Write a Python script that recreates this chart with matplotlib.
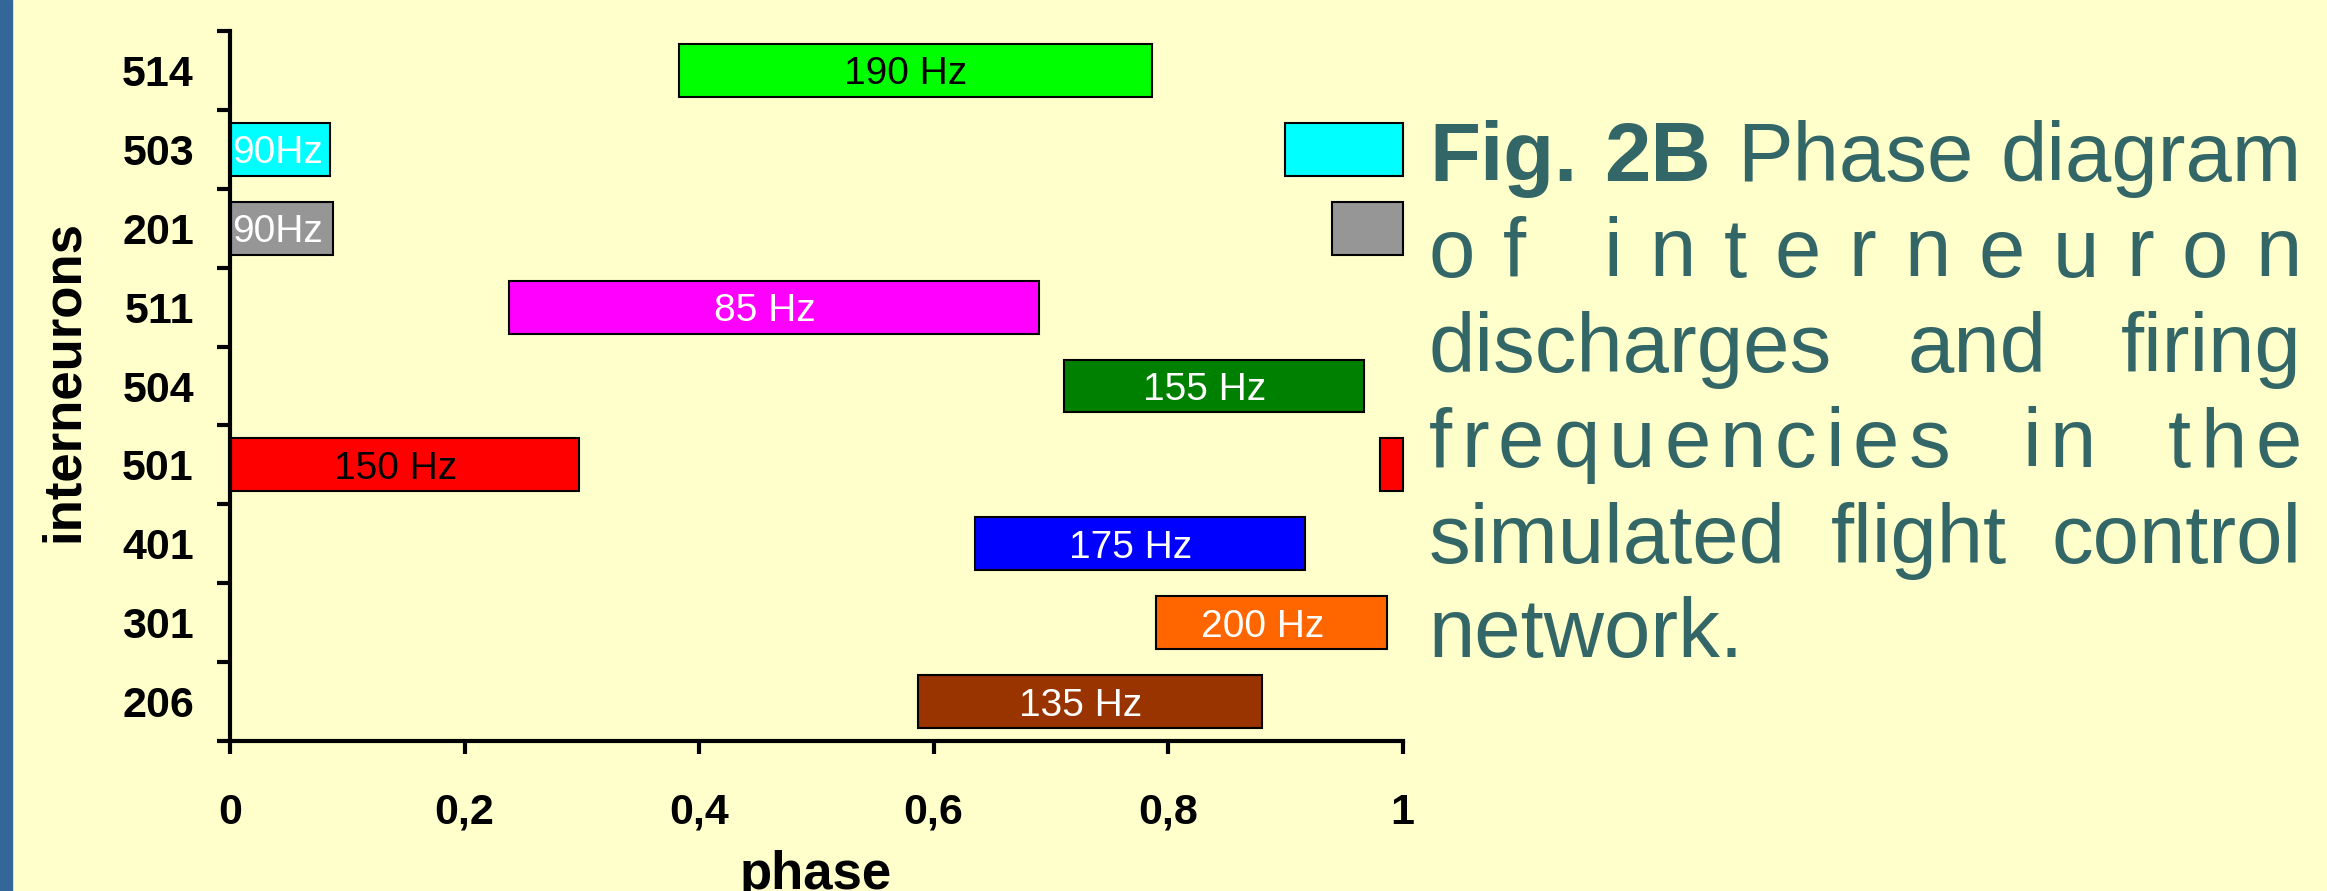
import matplotlib
matplotlib.use('Agg')
import matplotlib.pyplot as plt
from matplotlib.patches import Rectangle
import numpy as np

# ---------------- data ----------------
neurons = ['514', '503', '201', '511', '504', '501', '401', '301', '206']   # top -> bottom
start_main = [0.383, 0.0, 0.0, 0.238, 0.711, 0.0, 0.635, 0.790, 0.587]
end_main = [0.786, 0.085, 0.088, 0.690, 0.967, 0.298, 0.917, 0.987, 0.880]
start_wrap = [None, 0.900, 0.940, None, None, 0.981, None, None, None]
end_wrap = [None, 1.0, 1.0, None, None, 1.0, None, None, None]
freq_labels = ['190 Hz', '90Hz', '90Hz', '85 Hz', '155 Hz', '150 Hz', '175 Hz', '200 Hz', '135 Hz']
bar_colors = ['#00FF00', '#00FFFF', '#969696', '#FF00FF', '#008000',
              '#FF0000', '#0000FF', '#FF6600', '#993300']
label_colors = ['black', 'white', 'white', 'white', 'white', 'black', 'white', 'white', 'white']
x_ticks = [0, 0.2, 0.4, 0.6, 0.8, 1.0]
x_tick_labels = ['0', '0,2', '0,4', '0,6', '0,8', '1']
caption_lines = [
    [('Fig.', 'bold'), ('2B', 'bold'), ('Phase', 'normal'), ('diagram', 'normal')],
    [('of', 'normal'), ('interneuron', 'normal')],
    [('discharges', 'normal'), ('and', 'normal'), ('firing', 'normal')],
    [('frequencies', 'normal'), ('in', 'normal'), ('the', 'normal')],
    [('simulated', 'normal'), ('flight', 'normal'), ('control', 'normal')],
    [('network.', 'normal')],
]

# ---------------- figure ----------------
FAM = ['Liberation Sans', 'DejaVu Sans']
plt.rcParams['font.family'] = FAM
W, H, DPI = 2327, 891, 100
BG = '#FFFFCC'
TXT = '#336666'

fig = plt.figure(figsize=(W / DPI, H / DPI), dpi=DPI, facecolor=BG)
fig.add_artist(Rectangle((0, 0), 12 / W, 1, transform=fig.transFigure,
                         color='#336699', zorder=0))

ax = fig.add_axes([230 / W, 150 / H, (1402.5 - 230) / W, (741 - 31) / H])
ax.set_facecolor(BG)

n = len(neurons)
ypos = [n - 1 - i for i in range(n)]
bar_h = 0.67
for i in range(n):
    y = ypos[i]
    ax.barh(y, end_main[i] - start_main[i], left=start_main[i], height=bar_h,
            color=bar_colors[i], edgecolor='black', linewidth=1.5, clip_on=False)
    if start_wrap[i] is not None:
        ax.barh(y, end_wrap[i] - start_wrap[i], left=start_wrap[i], height=bar_h,
                color=bar_colors[i], edgecolor='black', linewidth=1.5, clip_on=False)
    width = end_main[i] - start_main[i]
    if width < 0.1:
        ax.text(start_main[i] + 0.002, y, freq_labels[i], ha='left', va='center_baseline',
                color=label_colors[i], fontsize=28)
    else:
        ax.text((start_main[i] + end_main[i]) / 2 - 0.008, y, freq_labels[i], ha='center',
                va='center_baseline', color=label_colors[i], fontsize=28)

ax.set_xlim(0, 1)
ax.set_ylim(-0.5, n - 0.5)
for s in ['top', 'right']:
    ax.spines[s].set_visible(False)
for s in ['left', 'bottom']:
    ax.spines[s].set_linewidth(3)
    ax.spines[s].set_zorder(5)

ax.set_xticks(x_ticks)
ax.set_xticklabels(x_tick_labels, fontsize=31, fontweight='bold')
ax.tick_params(axis='x', direction='out', length=9.4, width=3, pad=28)

ax.set_yticks(np.arange(-0.5, n, 1.0))
ax.set_yticklabels([])
ax.tick_params(axis='y', which='major', direction='out', length=9.4, width=3)
ax.set_yticks(ypos, minor=True)
ax.set_yticklabels(neurons, minor=True, fontsize=31, fontweight='bold')
ax.tick_params(axis='y', which='minor', length=0, pad=26)

fig.text(89 / W, 1 - 381 / H, 'interneurons', rotation=90, ha='right', va='center',
         fontsize=38, fontweight='bold', color='black')
fig.text(816 / W, 1 - 889 / H, 'phase', ha='center', va='baseline',
         fontsize=38, fontweight='bold', color='black')

# ---------------- justified caption ----------------
renderer = fig.canvas.get_renderer()
FS = 60
x0, x1 = 1429.0, 2302.0
baselines = [181, 276.5, 371.7, 467.3, 562.7, 656.7]
char_mode = {1: 2.8, 3: 8.0}   # lines letter-spaced: word-gap weight


def ink_width(s, weight):
    t = fig.text(0, 0, s, fontsize=FS, fontweight=weight)
    w = t.get_window_extent(renderer).width
    t.remove()
    return w


for li, words in enumerate(caption_lines):
    yb = 1 - baselines[li] / H
    units = []   # (text, weight)
    gaps = []    # weight of gap after each unit
    if li in char_mode:
        for wi, (w, wt) in enumerate(words):
            for ci, c in enumerate(w):
                units.append((c, wt))
                if ci < len(w) - 1:
                    gaps.append(1.0)
                elif wi < len(words) - 1:
                    gaps.append(char_mode[li])
    else:
        for wi, (w, wt) in enumerate(words):
            units.append((w, wt))
            if wi < len(words) - 1:
                gaps.append(1.0)
    widths = [ink_width(u, wt) for u, wt in units]
    if li == len(caption_lines) - 1:
        space = ink_width('a a', 'normal') - ink_width('aa', 'normal')
        gap_px = [space for g in gaps]
    else:
        extra = (x1 - x0) - sum(widths)
        unit_gap = extra / sum(gaps) if gaps else 0
        gap_px = [g * unit_gap for g in gaps]
    x = x0
    for k, (u, wt) in enumerate(units):
        fig.text(x / W, yb, u, fontsize=FS, fontweight=wt, color=TXT,
                 ha='left', va='baseline')
        x += widths[k]
        if k < len(gap_px):
            x += gap_px[k]

fig.savefig('out.png', dpi=DPI, facecolor=BG)
